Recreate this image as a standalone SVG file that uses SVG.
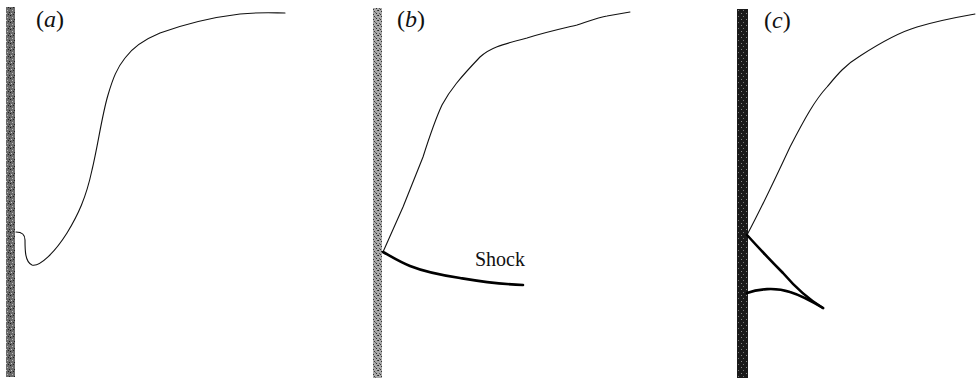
<svg xmlns="http://www.w3.org/2000/svg" width="977" height="382" viewBox="0 0 977 382">
<defs>
<pattern id="speck" width="7" height="5" patternUnits="userSpaceOnUse">
<rect width="7" height="5" fill="#a8a8a8"/>
<rect x="0" y="0" width="1" height="1" fill="#222"/>
<rect x="3" y="1" width="1" height="1" fill="#333"/>
<rect x="5" y="3" width="1" height="1" fill="#2a2a2a"/>
<rect x="1" y="3" width="1" height="1" fill="#555"/>
<rect x="6" y="0" width="1" height="1" fill="#444"/>
<rect x="2" y="4" width="1" height="1" fill="#333"/>
<rect x="4" y="2" width="1" height="1" fill="#666"/>
</pattern>
<pattern id="speckMid" width="5" height="7" patternUnits="userSpaceOnUse">
<rect width="5" height="7" fill="#6a6a6a"/>
<rect x="0" y="1" width="1" height="1" fill="#111"/>
<rect x="2" y="3" width="1" height="1" fill="#bbb"/>
<rect x="4" y="5" width="1" height="1" fill="#222"/>
<rect x="1" y="6" width="1" height="1" fill="#ccc"/>
<rect x="3" y="0" width="1" height="1" fill="#222"/>
</pattern>
<pattern id="speckDark" width="5" height="6" patternUnits="userSpaceOnUse">
<rect width="5" height="6" fill="#1a1a1a"/>
<rect x="1" y="1" width="1" height="1" fill="#888"/>
<rect x="3" y="4" width="1" height="1" fill="#777"/>
</pattern>
</defs>
<style>
.wall{stroke:none}
.curve{fill:none;stroke:#111;stroke-width:1.1;stroke-linecap:round;stroke-linejoin:round}
.shock{fill:none;stroke:#000;stroke-width:2.6;stroke-linecap:round;stroke-linejoin:round}
.lbl{font-family:"Liberation Serif",serif;font-size:24px;fill:#111}
.shk{font-family:"Liberation Serif",serif;font-size:20px;fill:#111}
</style>
<g id="panel-a">
<rect class="wall" x="6" y="7" width="9" height="370" fill="url(#speckMid)"/>
<text class="lbl" x="36" y="27">(<tspan font-style="italic">a</tspan>)</text>
<path class="curve" d="M16,232 C22,232 25,235 25,240 C25,250 25,262 32,265 C40,267 55,252 67,233 C78,215 86,198 92,170 C98,145 102,115 108,95 C113,78 117,68 125,58 C133,47 143,40 160,33 C185,24 215,17 240,14 C260,12 275,13 285,13"/>
</g>
<g id="panel-b">
<rect class="wall" x="373" y="8" width="9" height="370" fill="url(#speck)"/>
<text class="lbl" x="397" y="27">(<tspan font-style="italic">b</tspan>)</text>
<path class="curve" d="M383,252 L403,207 L423,157 C430,135 435,120 442,105 C450,90 460,78 480,57 C490,48 500,45 527,38 C550,31 565,28 577,25 C592,20 600,17 607,16 L630,12"/>
<path class="shock" d="M383,252 C392,257 400,262 410,266 C425,272 440,275 460,278 C478,281 495,284 523,285"/>
<text class="shk" x="475" y="266">Shock</text>
</g>
<g id="panel-c">
<rect class="wall" x="737" y="9" width="11" height="369" fill="url(#speckDark)"/>
<text class="lbl" x="764" y="28">(<tspan font-style="italic">c</tspan>)</text>
<path class="curve" d="M747,235 C755,220 770,190 790,147 C805,118 815,100 827,87 C837,75 845,65 860,56 C880,43 900,32 917,27 C940,20 958,17 975,14"/>
<path class="shock" d="M747,235 C757,246 770,260 783,273 C795,287 808,299 823,308"/>
<path class="shock" d="M747,293 C758,289 775,287 790,292 C803,296 813,302 823,308"/>
</g>
</svg>
